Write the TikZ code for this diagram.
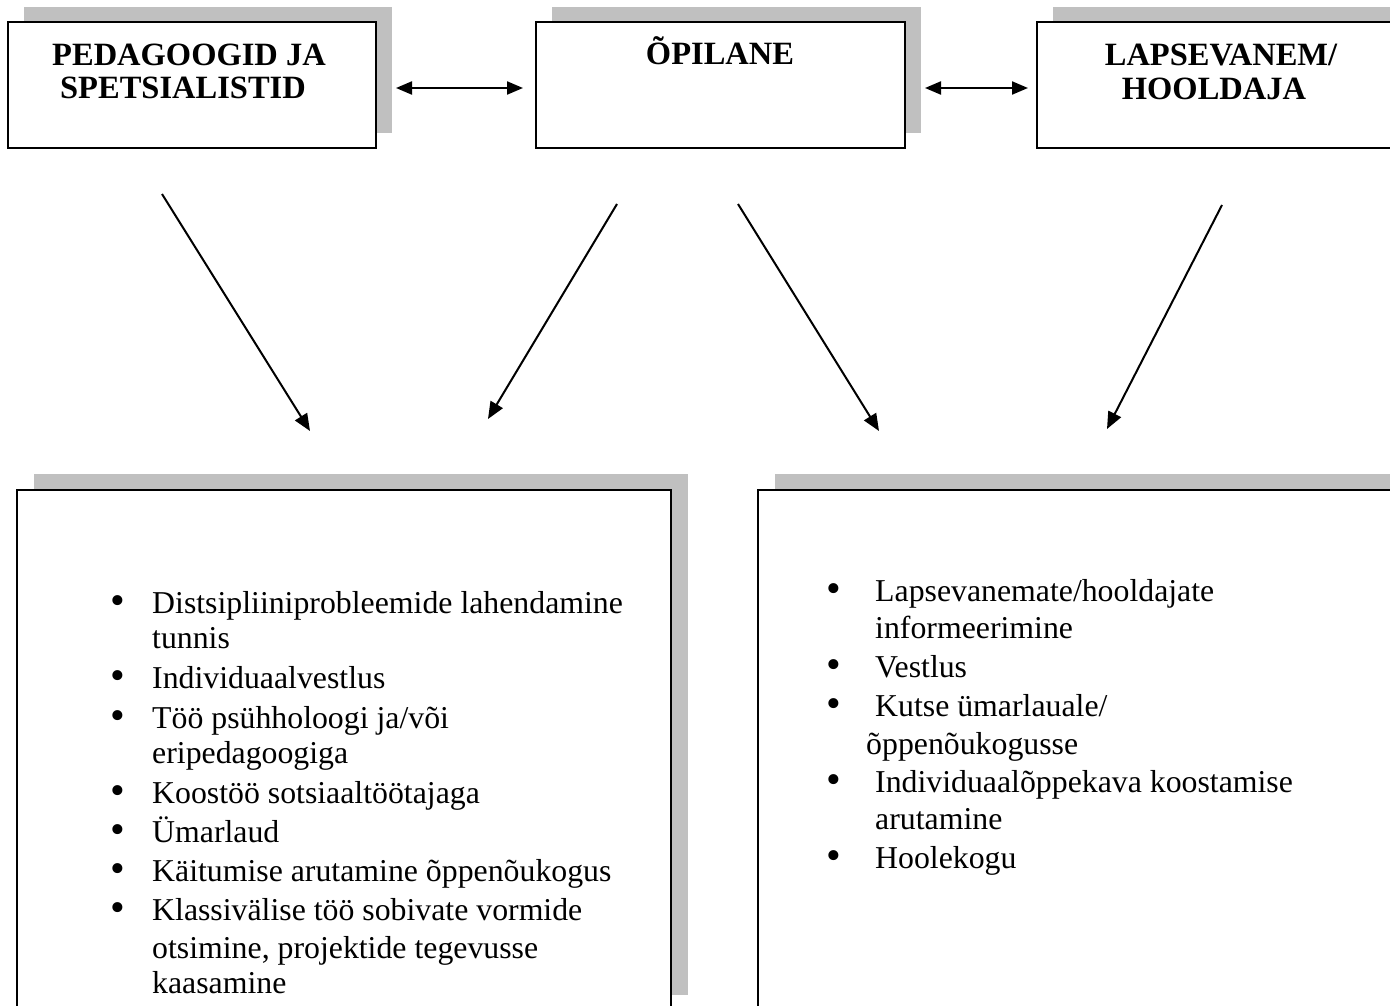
\documentclass[tikz,border=0pt]{standalone}
\usepackage{fontspec}
\setmainfont{Liberation Serif}
\usetikzlibrary{arrows.meta}
\definecolor{shadowgray}{HTML}{C0C0C0}
\tikzset{
  shadowbox/.style={fill=shadowgray, draw=none},
  mainbox/.style={draw=black, line width=2pt, fill=white},
  head/.style={font=\fontsize{32.5}{36}\selectfont\bfseries, anchor=base, inner sep=0pt},
  item/.style={font=\fontsize{31.8}{36}\selectfont, anchor=base west, inner sep=0pt},
  bul/.style={font=\fontsize{42}{36}\selectfont, anchor=base, inner sep=0pt},
  conn/.style={line width=2pt, -{Triangle[length=17pt,width=14pt]}},
  dconn/.style={line width=2.2pt, {Triangle[length=16pt,width=13pt]}-{Triangle[length=16pt,width=13pt]}},
}
\begin{document}
\begin{tikzpicture}[x=1pt, y=-1pt]
\useasboundingbox (0,0) rectangle (1390,1006);
\clip (0,0) rectangle (1390,1006);
% top boxes
\fill[shadowbox] (24,7) rectangle (392,133);
\node[mainbox, minimum width=368pt, minimum height=126pt, inner sep=0pt] (ped) at (192,85) {};
\fill[shadowbox] (552,7) rectangle (921,133);
\node[mainbox, minimum width=369pt, minimum height=126pt, inner sep=0pt] (opi) at (720.5,85) {};
\fill[shadowbox] (1053,7) rectangle (1422,133);
\node[mainbox, minimum width=369pt, minimum height=126pt, inner sep=0pt] (lap) at (1221.5,85) {};
% headings
\node[head] (pedA) at (189,66) {PEDAGOOGID JA};
\node[head] (pedB) at (183,99) {SPETSIALISTID};
\node[head] (opiA) at (720,65) {ÕPILANE};
\node[head] (lapA) at (1221,66) {LAPSEVANEM/};
\node[head] (lapB) at (1214,100) {HOOLDAJA};
% double arrows
\coordinate (d1a) at (396,88);
\coordinate (d1b) at (523,88);
\coordinate (d2a) at (925,88);
\coordinate (d2b) at (1028,88);
\draw[dconn] (d1a) -- (d1b);
\draw[dconn] (d2a) -- (d2b);
% diagonal arrows
\coordinate (a1s) at (162,194); \coordinate (a1e) at (310,431);
\coordinate (a2s) at (617,204); \coordinate (a2e) at (488,419);
\coordinate (a3s) at (738,204); \coordinate (a3e) at (879,431);
\coordinate (a4s) at (1222,205); \coordinate (a4e) at (1107,429);
\draw[conn] (a1s) -- (a1e);
\draw[conn] (a2s) -- (a2e);
\draw[conn] (a3s) -- (a3e);
\draw[conn] (a4s) -- (a4e);
% bottom boxes
\fill[shadowbox] (34,474) rectangle (688,995);
\node[mainbox, minimum width=654pt, minimum height=520pt, inner sep=0pt] (left) at (344,750) {};
\fill[shadowbox] (775,474) rectangle (1429,995);
\node[mainbox, minimum width=654pt, minimum height=520pt, inner sep=0pt] (right) at (1085,750) {};
% left list
\node[bul] (lb1) at (118,614) {•};
\node[item] (l1) at (152,613) {Distsipliiniprobleemide lahendamine};
\node[item] (l1b) at (152,648) {tunnis};
\node[bul] (lb2) at (118,689) {•};
\node[item] (l2) at (152,688) {Individuaalvestlus};
\node[bul] (lb3) at (118,729) {•};
\node[item] (l3) at (152,728) {Töö psühholoogi ja/või};
\node[item] (l3b) at (152,763) {eripedagoogiga};
\node[bul] (lb4) at (118,804) {•};
\node[item] (l4) at (152,803) {Koostöö sotsiaaltöötajaga};
\node[bul] (lb5) at (118,843) {•};
\node[item] (l5) at (152,842) {Ümarlaud};
\node[bul] (lb6) at (118,882) {•};
\node[item] (l6) at (152,881) {Käitumise arutamine õppenõukogus};
\node[bul] (lb7) at (118,921) {•};
\node[item] (l7) at (152,920) {Klassivälise töö sobivate vormide};
\node[item] (l7b) at (152,958) {otsimine, projektide tegevusse};
\node[item] (l7c) at (152,993) {kaasamine};
% right list
\node[bul] (rb1) at (834,602) {•};
\node[item] (r1) at (875,601) {Lapsevanemate/hooldajate};
\node[item] (r1b) at (875,638) {informeerimine};
\node[bul] (rb2) at (834,678) {•};
\node[item] (r2) at (875,677) {Vestlus};
\node[bul] (rb3) at (834,717) {•};
\node[item] (r3) at (875,716) {Kutse ümarlauale/};
\node[item] (r3b) at (866,754) {õppenõukogusse};
\node[bul] (rb4) at (834,793) {•};
\node[item] (r4) at (875,792) {Individuaalõppekava koostamise};
\node[item] (r4b) at (875,829) {arutamine};
\node[bul] (rb5) at (834,869) {•};
\node[item] (r5) at (875,868) {Hoolekogu};
\end{tikzpicture}
\end{document}
